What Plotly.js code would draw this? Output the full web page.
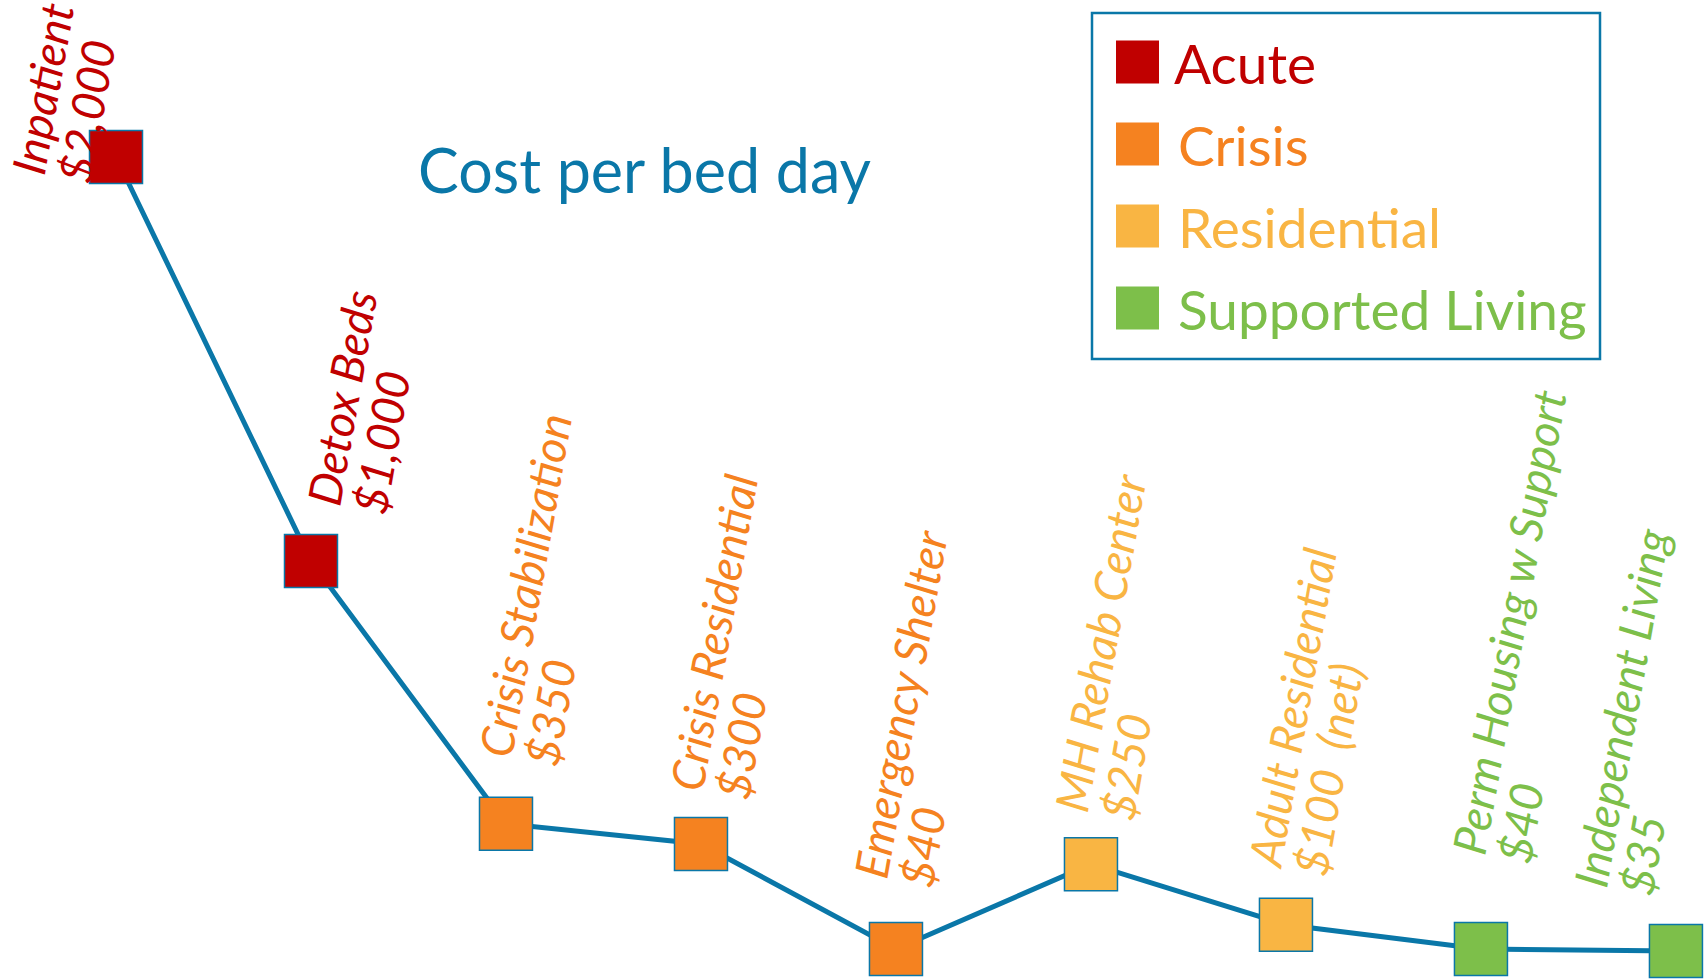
<!DOCTYPE html>
<html>
<head>
<meta charset="utf-8">
<script src="https://cdn.plot.ly/plotly-3.0.1.min.js"></script>
<style>
  html, body { margin: 0; padding: 0; background: #ffffff; }
  #chart { width: 1705px; height: 980px; }
</style>
</head>
<body>
<div id="chart"></div>
<script>
// ---- data ----
const categories = ["Inpatient", "Detox Beds", "Crisis Stabilization", "Crisis Residential",
  "Emergency Shelter", "MH Rehab Center", "Adult Residential", "Perm Housing w Support", "Independent Living"];
const costs = [2000, 1000, 350, 300, 40, 250, 100, 40, 35];
const costLabels = ["$2,000", "$1,000", "$350", "$300", "$40", "$250", "$100  (net)", "$40", "$35"];
const groups = ["Acute", "Acute", "Crisis", "Crisis", "Crisis", "Residential", "Residential",
  "Supported Living", "Supported Living"];
const groupNames = ["Acute", "Crisis", "Residential", "Supported Living"];
const chartTitle = "Cost per bed day";

// ---- styles ----
const groupColors = {
  "Acute": "#C00000",
  "Crisis": "#F58220",
  "Residential": "#F9B543",
  "Supported Living": "#7DBF4A"
};
const lineColor = "#0A77A8";
// pixel offsets of each label (first line start) relative to its marker
const labelShift = [[-118, -24], [-18, 49], [-41, 60], [-45, 47], [-56, 64], [-50, 46], [-52, 51], [-43, 88], [-116, 58]];
const line2Offset = [46, -8];
const labelFont = "Lato, 'Open Sans', sans-serif";
const labelSize = 46;

const xIdx = categories.map((c, i) => i);

const trace = {
  type: "scatter",
  mode: "lines+markers",
  x: xIdx,
  y: costs,
  text: categories,
  line: { color: lineColor, width: 5 },
  marker: {
    symbol: "square",
    size: 53,
    color: groups.map(g => groupColors[g]),
    line: { color: lineColor, width: 1.5 }
  },
  cliponaxis: false,
  showlegend: false,
  hoverinfo: "text+y"
};

const annotations = [];
categories.forEach((name, i) => {
  const col = groupColors[groups[i]];
  const [sx, sy] = labelShift[i];
  annotations.push({
    x: xIdx[i], y: costs[i], xref: "x", yref: "y",
    text: name, showarrow: false, textangle: -80,
    xanchor: "left", yanchor: "bottom", xshift: sx, yshift: sy,
    font: { family: labelFont, size: labelSize, color: col, style: "italic" }
  });
  annotations.push({
    x: xIdx[i], y: costs[i], xref: "x", yref: "y",
    text: costLabels[i], showarrow: false, textangle: -80,
    xanchor: "left", yanchor: "bottom", xshift: sx + line2Offset[0], yshift: sy + line2Offset[1],
    font: { family: labelFont, size: labelSize, color: col, style: "italic" }
  });
});

// ---- manual legend (paper coordinates) ----
const W = 1705, H = 980;
const px = v => v / W;
const py = v => 1 - v / H;
const shapes = [{
  type: "rect", xref: "paper", yref: "paper",
  x0: px(1092), x1: px(1600), y0: py(359), y1: py(13),
  line: { color: lineColor, width: 2.5 }, fillcolor: "rgba(0,0,0,0)"
}];
const rowCenters = [62, 144, 226, 308];
groupNames.forEach((g, k) => {
  const c = rowCenters[k];
  shapes.push({
    type: "rect", xref: "paper", yref: "paper",
    x0: px(1116), x1: px(1159), y0: py(c + 21.5), y1: py(c - 21.5),
    line: { width: 0 }, fillcolor: groupColors[g]
  });
  annotations.push({
    xref: "paper", yref: "paper", x: px(k === 0 ? 1172 : 1176), y: py(c + 1),
    xanchor: "left", yanchor: "middle", showarrow: false,
    text: g, font: { family: "Lato, 'Open Sans', sans-serif", size: 55, color: groupColors[g] }
  });
});

const layout = {
  width: W, height: H, autosize: false,
  margin: { l: 0, r: 0, t: 0, b: 0, pad: 0 },
  paper_bgcolor: "#ffffff", plot_bgcolor: "#ffffff",
  title: {
    text: chartTitle,
    x: 644.5 / W, xanchor: "center",
    y: 1 - 171.5 / H, yanchor: "middle",
    font: { family: "Lato, 'Open Sans', sans-serif", size: 61, color: lineColor }
  },
  xaxis: { range: [-0.5949, 8.149], visible: false, fixedrange: true },
  yaxis: { range: [-36.6, 2388.6], visible: false, fixedrange: true },
  showlegend: false,
  shapes: shapes,
  annotations: annotations
};

Plotly.newPlot("chart", [trace], layout, { displayModeBar: false, staticPlot: true });
</script>
</body>
</html>
